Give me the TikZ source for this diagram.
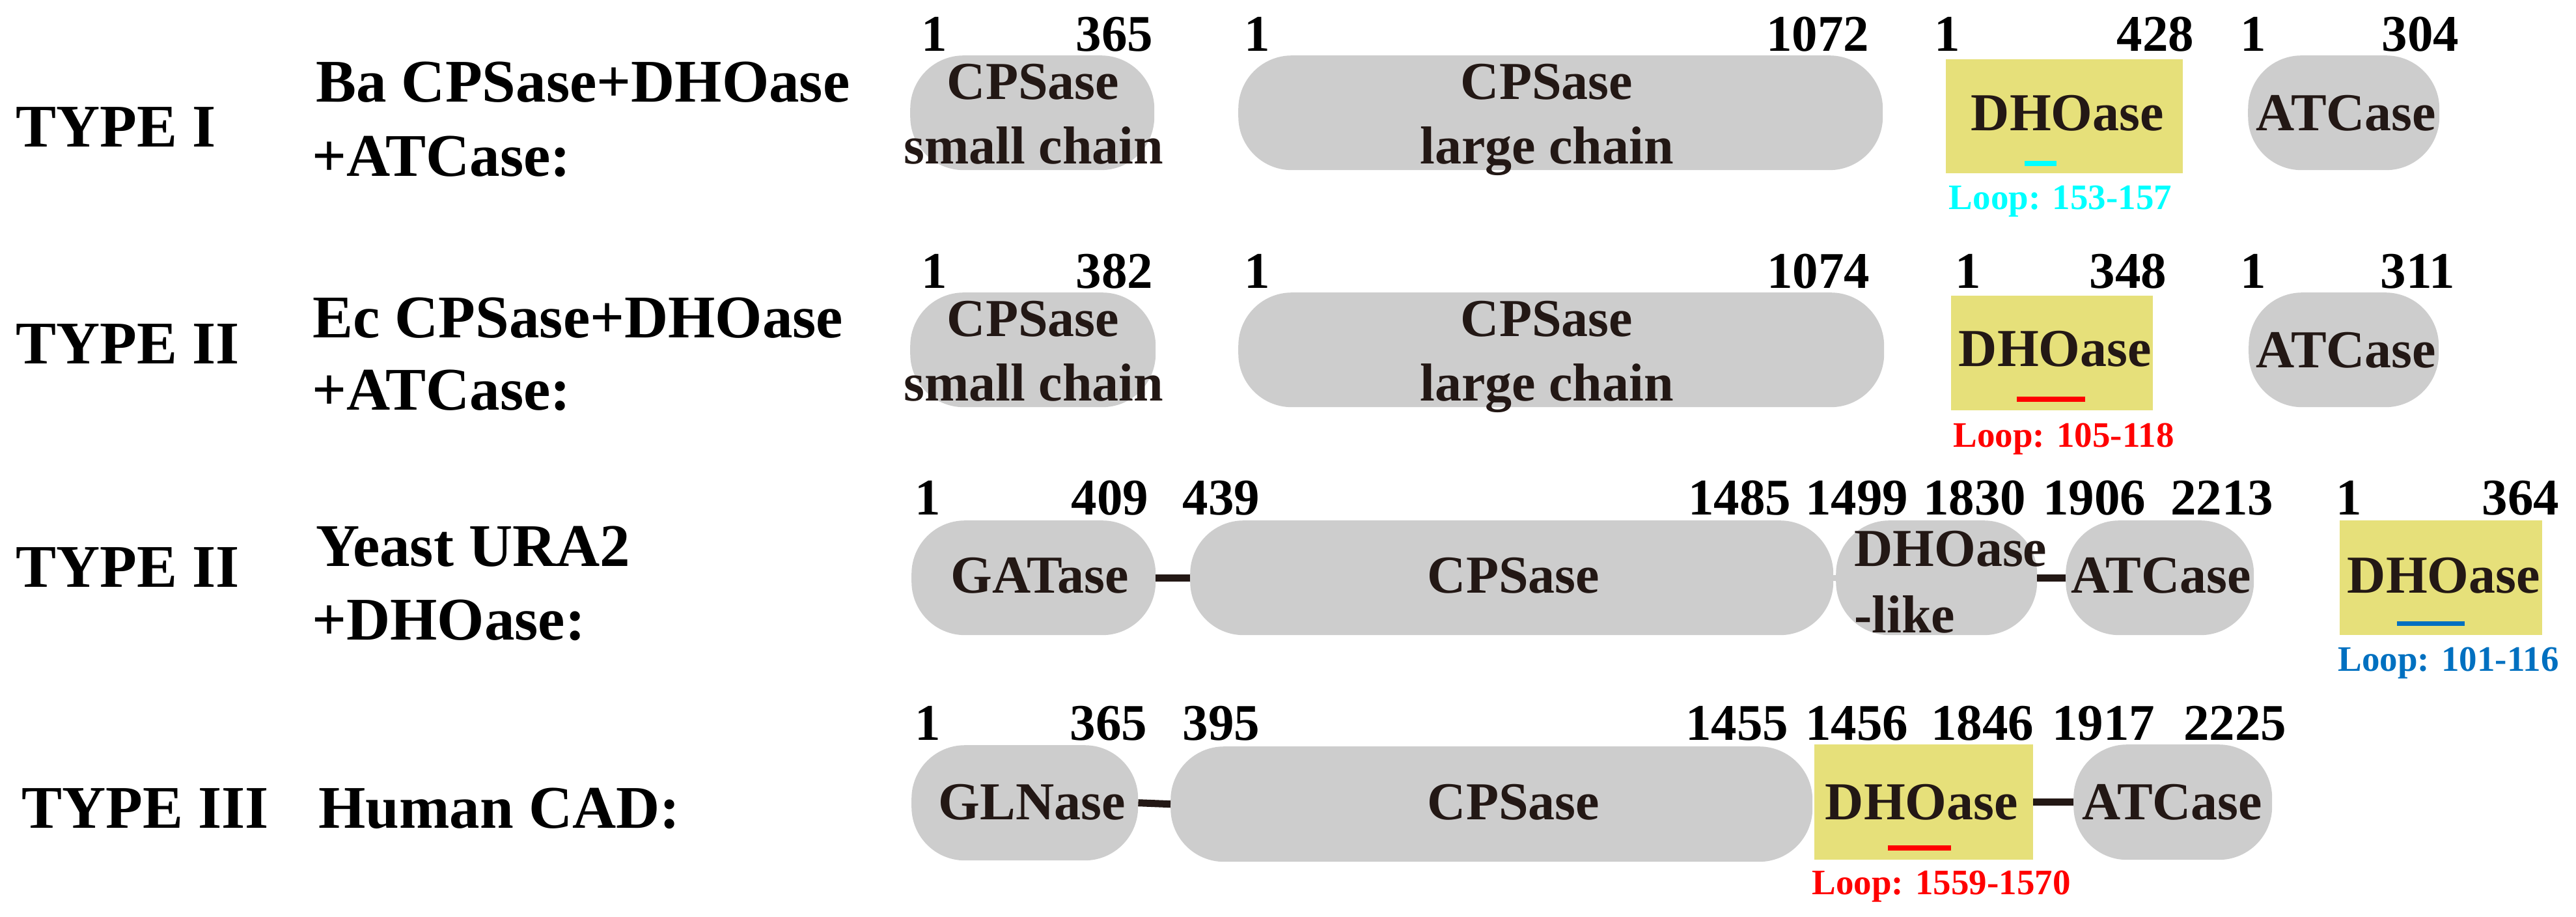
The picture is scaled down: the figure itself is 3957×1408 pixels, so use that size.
\documentclass[tikz,border=0pt]{standalone}
\usepackage{fontspec}
\setmainfont{Liberation Serif}
\definecolor{ink}{HTML}{231815}
\definecolor{blobgray}{RGB}{205,205,205}
\definecolor{dhoyellow}{RGB}{230,224,122}
\definecolor{loopcyan}{RGB}{0,255,255}
\definecolor{loopred}{RGB}{255,0,0}
\definecolor{loopblue}{RGB}{0,112,192}
\begin{document}
\begin{tikzpicture}[x=1pt,y=-1pt,
  blob/.style={fill=blobgray, draw=none, rounded corners=82pt, inner sep=0pt, anchor=north west},
  dbox/.style={fill=dhoyellow, draw=none, inner sep=0pt, anchor=north west},
  typelab/.style={inner sep=0pt, anchor=base west, text=black, font=\fontsize{93}{100}\selectfont\bfseries},
  dom/.style={inner sep=0pt, anchor=base, text=ink, font=\fontsize{82}{90}\selectfont\bfseries},
  domw/.style={inner sep=0pt, anchor=base west, text=ink, font=\fontsize{82}{90}\selectfont\bfseries},
  num/.style={inner sep=0pt, anchor=base, text=black, font=\fontsize{79}{85}\selectfont\bfseries},
  looplab/.style={inner sep=0pt, anchor=base, font=\fontsize{55}{60}\selectfont\bfseries},
  loopbar/.style={draw=none, inner sep=0pt, minimum height=8pt},
  linker/.style={draw=ink, line width=11pt},
]
\useasboundingbox (0,0) rectangle (3957,1408);

% ---------------- Left labels ----------------
\node[typelab] (t1) at (24,225) {TYPE I};
\node[typelab] (t1a) at (485,156) {Ba CPSase+DHOase};
\node[typelab] (t1b) at (479,270) {+ATCase:};

\node[typelab] (t2) at (24,558) {TYPE II};
\node[typelab] (t2a) at (480,518) {Ec CPSase+DHOase};
\node[typelab] (t2b) at (479,629) {+ATCase:};

\node[typelab] (t3) at (24,901) {TYPE II};
\node[typelab] (t3a) at (485,869) {Yeast URA2};
\node[typelab] (t3b) at (479,982) {+DHOase:};

\node[typelab] (t4) at (33,1271) {TYPE III};
\node[typelab] (t4a) at (489,1271) {Human CAD:};

% ---------------- Row 1 ----------------
\node[blob, minimum width=375pt, minimum height=176pt] (r1s) at (1398,85) {};
\node[blob, minimum width=990pt, minimum height=176pt] (r1l) at (1902,85) {};
\node[dbox, minimum width=364pt, minimum height=175pt] (r1d) at (2989,91) {};
\node[blob, minimum width=294pt, minimum height=176pt] (r1a) at (3453,85) {};

\node[dom] (r1st1) at (1587,152) {CPSase};
\node[dom] (r1st2) at (1588,251) {small chain};
\node[dom] (r1lt1) at (2376,152) {CPSase};
\node[dom] (r1lt2) at (2376,251) {large chain};
\node[dom] (r1dt) at (3176,200) {DHOase};
\node[dom] (r1at) at (3604,200) {ATCase};
\node[loopbar, fill=loopcyan, minimum width=49pt] (r1bar) at (3134.5,250.5) {};
\node[looplab, text=loopcyan] (r1loop) at (3165,321) {Loop: 153-157};

\node[num] (n1a) at (1435,78) {1};
\node[num] (n1b) at (1712,78) {365};
\node[num] (n1c) at (1931,78) {1};
\node[num] (n1d) at (2792,78) {1072};
\node[num] (n1e) at (2991,78) {1};
\node[num] (n1f) at (3311,78) {428};
\node[num] (n1g) at (3461,78) {1};
\node[num] (n1h) at (3718,78) {304};

% ---------------- Row 2 ----------------
\node[blob, minimum width=377pt, minimum height=176pt] (r2s) at (1398,449) {};
\node[blob, minimum width=992pt, minimum height=176pt] (r2l) at (1902,449) {};
\node[dbox, minimum width=310pt, minimum height=176pt] (r2d) at (2997,454) {};
\node[blob, minimum width=292pt, minimum height=176pt] (r2a) at (3454,449) {};

\node[dom] (r2st1) at (1587,516) {CPSase};
\node[dom] (r2st2) at (1588,615) {small chain};
\node[dom] (r2lt1) at (2376,516) {CPSase};
\node[dom] (r2lt2) at (2376,615) {large chain};
\node[dom] (r2dt) at (3157,562) {DHOase};
\node[dom] (r2at) at (3604,564) {ATCase};
\node[loopbar, fill=loopred, minimum width=105pt] (r2bar) at (3150.5,613) {};
\node[looplab, text=loopred] (r2loop) at (3170,686) {Loop: 105-118};

\node[num] (n2a) at (1435,442) {1};
\node[num] (n2b) at (1712,442) {382};
\node[num] (n2c) at (1931,442) {1};
\node[num] (n2d) at (2793,442) {1074};
\node[num] (n2e) at (3023,442) {1};
\node[num] (n2f) at (3269,442) {348};
\node[num] (n2g) at (3461,442) {1};
\node[num] (n2h) at (3714,442) {311};

% ---------------- Row 3 ----------------
\node[blob, minimum width=375pt, minimum height=176pt] (r3g) at (1400,799) {};
\node[blob, minimum width=988pt, minimum height=176pt] (r3c) at (1828,799) {};
\node[blob, minimum width=309pt, minimum height=176pt] (r3h) at (2820,799) {};
\node[blob, minimum width=289pt, minimum height=176pt] (r3a) at (3173,799) {};
\node[dbox, minimum width=311pt, minimum height=176pt] (r3d) at (3594,799) {};

\draw[linker] (r3g.east) -- (r3c.west);
\draw[draw=blobgray, line width=9pt] (r3c.east) -- (r3h.west);
\draw[linker] (r3h.east) -- (r3a.west);

\node[dom] (r3gt) at (1597,910) {GATase};
\node[dom] (r3ct) at (2325,910) {CPSase};
\node[domw] (r3ht1) at (2848,869) {DHOase};
\node[domw] (r3ht2) at (2848,971) {-like};
\node[dom] (r3at) at (3320,910) {ATCase};
\node[dom] (r3dt) at (3754,910) {DHOase};
\node[loopbar, fill=loopblue, minimum width=104pt, minimum height=7pt] (r3bar) at (3734,957.5) {};
\node[looplab, text=loopblue] (r3loop) at (3761,1030) {Loop: 101-116};

\node[num] (n3a) at (1425,790) {1};
\node[num] (n3b) at (1705,790) {409};
\node[num] (n3c) at (1876,790) {439};
\node[num] (n3d) at (2672,790) {1485};
\node[num] (n3e) at (2852,790) {1499};
\node[num] (n3f) at (3033,790) {1830};
\node[num] (n3g) at (3217,790) {1906};
\node[num] (n3h) at (3413,790) {2213};
\node[num] (n3i) at (3608,790) {1};
\node[num] (n3j) at (3872,790) {364};

% ---------------- Row 4 ----------------
\node[blob, minimum width=348pt, minimum height=177pt] (r4g) at (1400,1144) {};
\node[blob, minimum width=986pt, minimum height=177pt] (r4c) at (1798,1146) {};
\node[dbox, minimum width=336pt, minimum height=177pt] (r4d) at (2787,1143) {};
\node[blob, minimum width=305pt, minimum height=177pt] (r4a) at (3185,1143) {};

\draw[linker] (r4g.east) -- (r4c.west);
\draw[linker] (r4d.east) -- (r4a.west);

\node[dom] (r4gt) at (1585,1258) {GLNase};
\node[dom] (r4ct) at (2325,1258) {CPSase};
\node[dom] (r4dt) at (2952,1258) {DHOase};
\node[dom] (r4at) at (3337,1258) {ATCase};
\node[loopbar, fill=loopred, minimum width=97pt] (r4bar) at (2948.5,1302) {};
\node[looplab, text=loopred] (r4loop) at (2982,1373) {Loop: 1559-1570};

\node[num] (n4a) at (1425,1136) {1};
\node[num] (n4b) at (1703,1136) {365};
\node[num] (n4c) at (1876,1136) {395};
\node[num] (n4d) at (2668,1136) {1455};
\node[num] (n4e) at (2852,1136) {1456};
\node[num] (n4f) at (3045,1136) {1846};
\node[num] (n4g) at (3231,1136) {1917};
\node[num] (n4h) at (3433,1136) {2225};
\end{tikzpicture}
\end{document}
